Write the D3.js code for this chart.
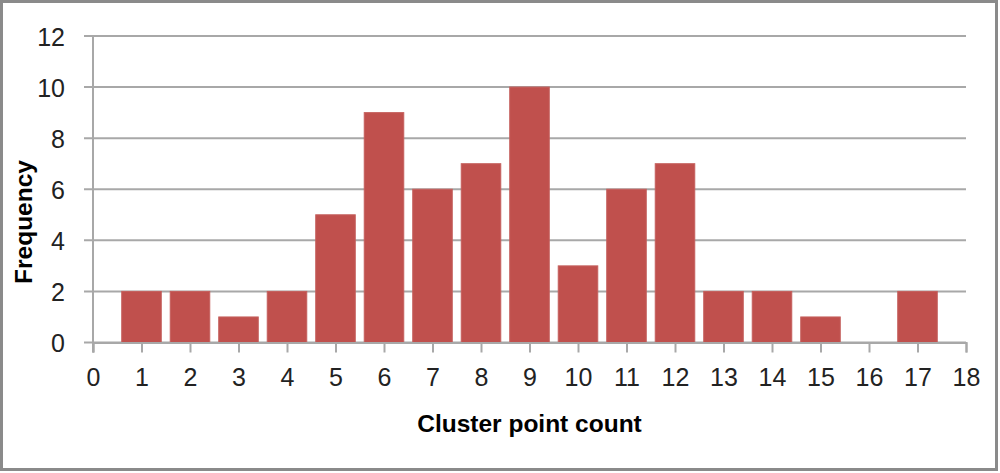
<!DOCTYPE html>
<html>
<head>
<meta charset="utf-8">
<script src="https://cdn.jsdelivr.net/npm/d3@7"></script>
<style>
  body { margin: 0; background: #fff; }
  text { font-family: "Liberation Sans", Arial, sans-serif; fill: #222; }
</style>
</head>
<body>
<div id="chart"></div>
<script>
// chart data
var pointCounts = [1, 2, 3, 4, 5, 6, 7, 8, 9, 10, 11, 12, 13, 14, 15, 16, 17];
var frequencies = [2, 2, 1, 2, 5, 9, 6, 7, 10, 3, 6, 7, 2, 2, 1, 0, 2];
var xTicks = d3.range(0, 19);
var yTicks = [0, 2, 4, 6, 8, 10, 12];

var width = 1000, height = 473;
var margin = { top: 36, right: 34, bottom: 130.5, left: 93 };
var innerW = width - margin.left - margin.right;
var innerH = height - margin.top - margin.bottom;

// create the svg canvas
var svg = d3.select("#chart")
    .append("svg")
    .attr("width", width)
    .attr("height", height);

// outer frame
svg.append("rect")
    .attr("x", 1.5)
    .attr("y", 1.5)
    .attr("width", 995)
    .attr("height", 468)
    .attr("fill", "#fff")
    .attr("stroke", "#8a8a8a")
    .attr("stroke-width", 3);

var g = svg.append("g")
    .attr("transform", "translate(" + margin.left + "," + margin.top + ")");

// scales
var x = d3.scaleLinear().domain([0, 18]).range([0, innerW]);
var y = d3.scaleLinear().domain([0, 12]).range([innerH, 0]);

// horizontal gridlines with small tick to the left
g.selectAll("line.grid")
    .data(yTicks)
    .enter()
    .append("line")
    .attr("class", "grid")
    .attr("x1", -9)
    .attr("x2", innerW)
    .attr("y1", function (d) { return y(d); })
    .attr("y2", function (d) { return y(d); })
    .attr("stroke", "#a8a8a8")
    .attr("stroke-width", 2);

// y axis
var yAxis = g.append("g")
    .call(d3.axisLeft(y).tickValues(yTicks).tickSize(9).tickPadding(19));
yAxis.select(".domain").remove();
yAxis.selectAll("line").remove();
yAxis.selectAll("text")
    .style("font-size", "25px")
    .attr("dy", "0.36em");

g.append("line")
    .attr("x1", 0).attr("x2", 0)
    .attr("y1", 0).attr("y2", innerH + 10)
    .attr("stroke", "#a8a8a8")
    .attr("stroke-width", 2);

// bars
var barW = (x(1) - x(0)) * 0.815;
g.selectAll("rect.bar")
    .data(pointCounts)
    .enter()
    .append("rect")
    .attr("class", "bar")
    .attr("x", function (d) { return x(d) - barW / 2; })
    .attr("y", function (d, i) { return y(frequencies[i]); })
    .attr("width", barW)
    .attr("height", function (d, i) { return innerH - y(frequencies[i]); })
    .attr("fill", "#c0504d")
    .attr("stroke", "#c5605d")
    .attr("stroke-width", 1);

// x axis
var xAxis = g.append("g")
    .attr("transform", "translate(0," + innerH + ")")
    .call(d3.axisBottom(x).tickValues(xTicks).tickSize(10).tickPadding(16).tickFormat(d3.format("d")));
xAxis.select(".domain")
    .attr("stroke", "#a8a8a8")
    .attr("stroke-width", 2);
xAxis.selectAll("line")
    .attr("stroke", "#a8a8a8")
    .attr("stroke-width", 2);
xAxis.selectAll("text")
    .style("font-size", "25px");

// axis titles
svg.append("text")
    .attr("x", margin.left + innerW / 2)
    .attr("y", 432)
    .attr("text-anchor", "middle")
    .style("font-size", "24.5px")
    .style("font-weight", "bold")
    .style("fill", "#000")
    .text("Cluster point count");

svg.append("text")
    .attr("transform", "translate(32,222) rotate(-90)")
    .attr("text-anchor", "middle")
    .style("font-size", "24.5px")
    .style("font-weight", "bold")
    .style("fill", "#000")
    .text("Frequency");
</script>
</body>
</html>
